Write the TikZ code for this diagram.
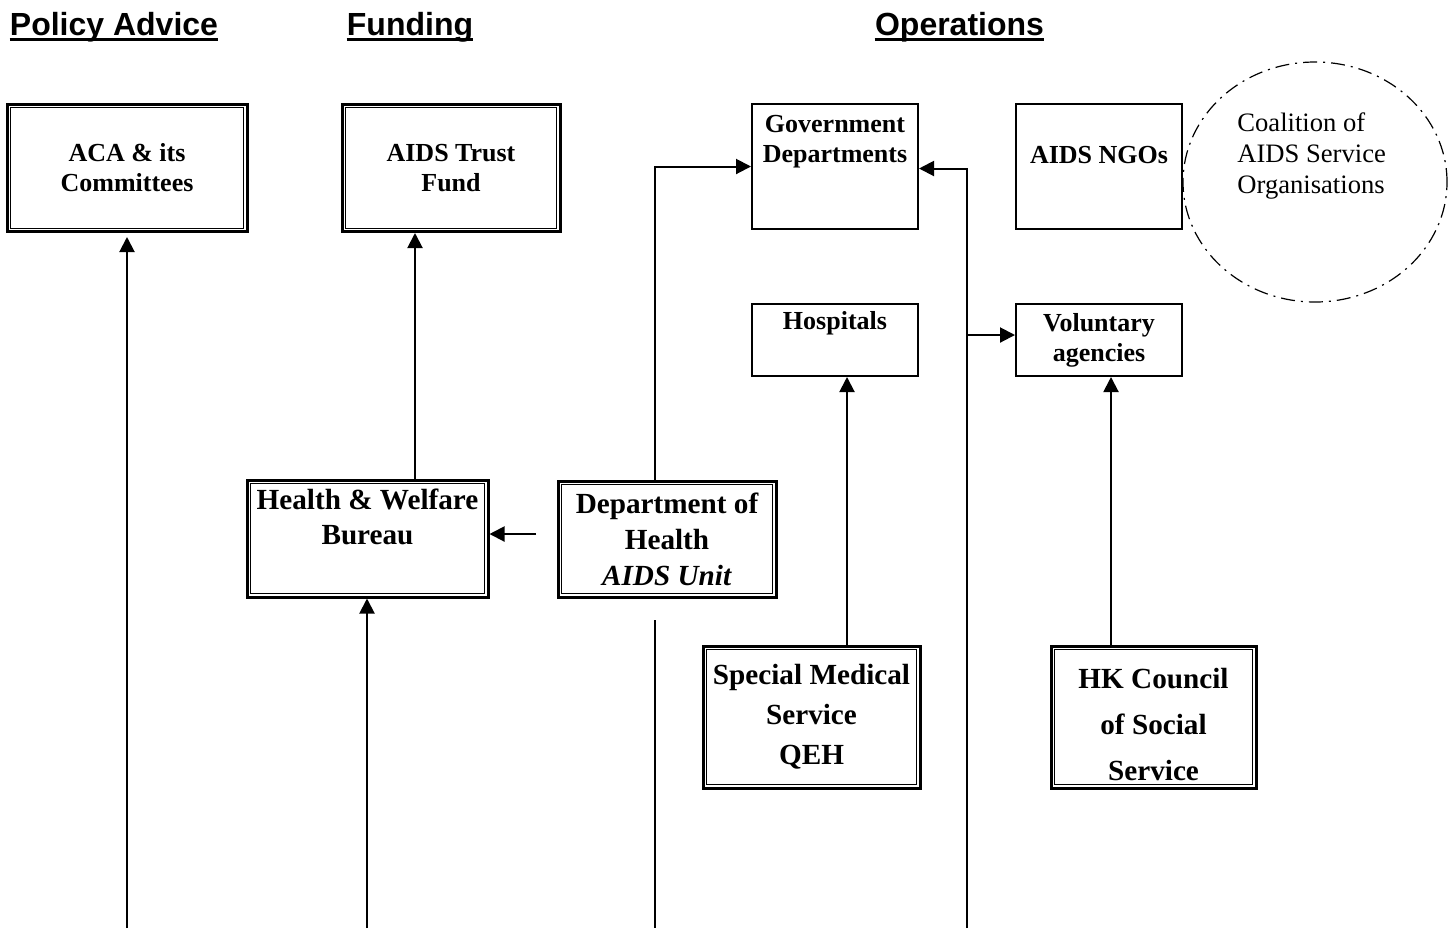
\documentclass[tikz,border=0pt]{standalone}
\usepackage{fontspec}
\setmainfont{Liberation Serif}
\setsansfont{Liberation Sans}
\usetikzlibrary{arrows.meta,calc,shapes.geometric}

\tikzset{
 sbox/.style={draw,line width=1pt,inner sep=0pt,font=\bfseries\fontsize{13}{15}\selectfont,align=center},
 dbox/.style={draw,line width=1.5pt,inner sep=0pt,font=\bfseries\fontsize{14.6}{18}\selectfont,align=center},
 btxt/.style={inner sep=0pt,font=\bfseries\fontsize{13}{15}\selectfont,align=center},
 head/.style={inner sep=0pt,font=\sffamily\bfseries\fontsize{16}{19}\selectfont,anchor=base},
 link/.style={line width=1pt,->},
}

\begin{document}
\begin{tikzpicture}[x=0.5pt,y=-0.5pt,>={Triangle[length=7.5pt,width=7.5pt]}]
 \useasboundingbox (0,0) rectangle (1455,928);
 % column headings
 \node[head] (hpol) at (114,35) {Policy Advice};
 \node[head] (hfund) at (410,35) {Funding};
 \node[head] (hops) at (959.5,35) {Operations};
 \foreach \h in {hpol,hfund,hops}
  \draw[line width=1.6pt] ([yshift=-2.4pt]\h.base west) -- ([yshift=-2.4pt]\h.base east);
 % boxes
 \node[dbox,font=\bfseries\fontsize{13}{15}\selectfont,minimum width=120pt,minimum height=63.5pt] (aca) at (127,168) {ACA \& its\\Committees};
 \node[dbox,font=\bfseries\fontsize{13}{15}\selectfont,minimum width=109pt,minimum height=63.5pt] (atf) at (451,168) {AIDS Trust\\Fund};
 \node[sbox,minimum width=83pt,minimum height=62.5pt] (gov) at (835,166.5) {};
 \node[btxt,anchor=north] (govt) at ([yshift=-6pt]gov.north) {Government\\Departments};
 \node[sbox,minimum width=83pt,minimum height=62.5pt] (ngo) at (1099,166.5) {};
 \node[btxt] (ngot) at ([yshift=5.5pt]ngo.center) {AIDS NGOs};
 \node[draw,ellipse,line width=0.6pt,dash pattern=on 7pt off 3pt on 1pt off 3pt,minimum width=132pt,minimum height=120pt] (coal) at (1315,182) {};
 \node[anchor=north west,inner sep=0pt,align=left,font=\fontsize{13.3}{15.5}\selectfont] (coalt) at (1237,112) {Coalition of\\AIDS Service\\Organisations};
 \node[sbox,minimum width=83pt,minimum height=36pt] (hosp) at (835,340) {};
 \node[btxt,anchor=north] (hospt) at ([yshift=-4pt]hosp.north) {Hospitals};
 \node[sbox,minimum width=83pt,minimum height=36pt] (vol) at (1099,340) {Voluntary\\agencies};
 \node[dbox,minimum width=120.5pt,minimum height=58.5pt] (hwb) at (367.5,538.5) {};
 \node[btxt,anchor=north,font=\bfseries\fontsize{14.6}{17.5}\selectfont] (hwbt) at ([yshift=-5pt]hwb.north) {Health \& Welfare\\Bureau};
 \node[dbox,minimum width=109pt,minimum height=58pt] (doh) at (667,539) {Department of\\Health\\\textit{AIDS Unit}};
 \node[dbox,font=\bfseries\fontsize{14.6}{20}\selectfont,minimum width=108.5pt,minimum height=71pt] (sms) at (811.5,717) {Special Medical\\Service\\QEH};
 \node[dbox,minimum width=102.5pt,minimum height=71pt] (hkc) at (1153.5,717) {};
 \node[btxt,font=\bfseries\fontsize{14.6}{23}\selectfont] (hkct) at ([yshift=-3.5pt]hkc.center) {HK Council\\of Social\\Service};
 % inner line of the double boxes
 \foreach \n in {aca,atf,hwb,doh,sms,hkc}
  \draw[line width=0.6pt] ($(\n.south west)+(2.4pt,2.4pt)$) rectangle ($(\n.north east)-(2.4pt,2.4pt)$);
 % helper points
 \coordinate (acain) at (127,928);
 \coordinate (hwbin) at (367,928);
 \coordinate (atfx) at (415,0);
 \coordinate (dohl) at (536,534);
 \coordinate (dohx) at (655,0);
 \coordinate (doha) at (655,620);
 \coordinate (dohb) at (655,928);
 \coordinate (opsin) at (967,928);
 \coordinate (smsx) at (847,0);
 \coordinate (hkcx) at (1111,0);
 % connectors
 \draw[link] (acain) -- ([yshift=-2pt]aca.south);
 \draw[link] (hwbin) -- (hwbin |- hwb.south);
 \draw[link] (hwb.north -| atfx) -- (atf.south -| atfx);
 \draw[link] (dohl) -- (dohl -| hwb.east);
 \draw[link] (doh.north -| dohx) |- (gov.west);
 \draw[line width=1pt] (doha) -- (dohb);
 \draw[link] (opsin) |- ([yshift=-1pt]gov.east);
 \draw[link] (opsin |- vol.west) ++(0,-5) -- ([yshift=2.5pt]vol.west);
 \draw[link] (sms.north -| smsx) -- (hosp.south -| smsx);
 \draw[link] (hkc.north -| hkcx) -- (vol.south -| hkcx);
\end{tikzpicture}
\end{document}
